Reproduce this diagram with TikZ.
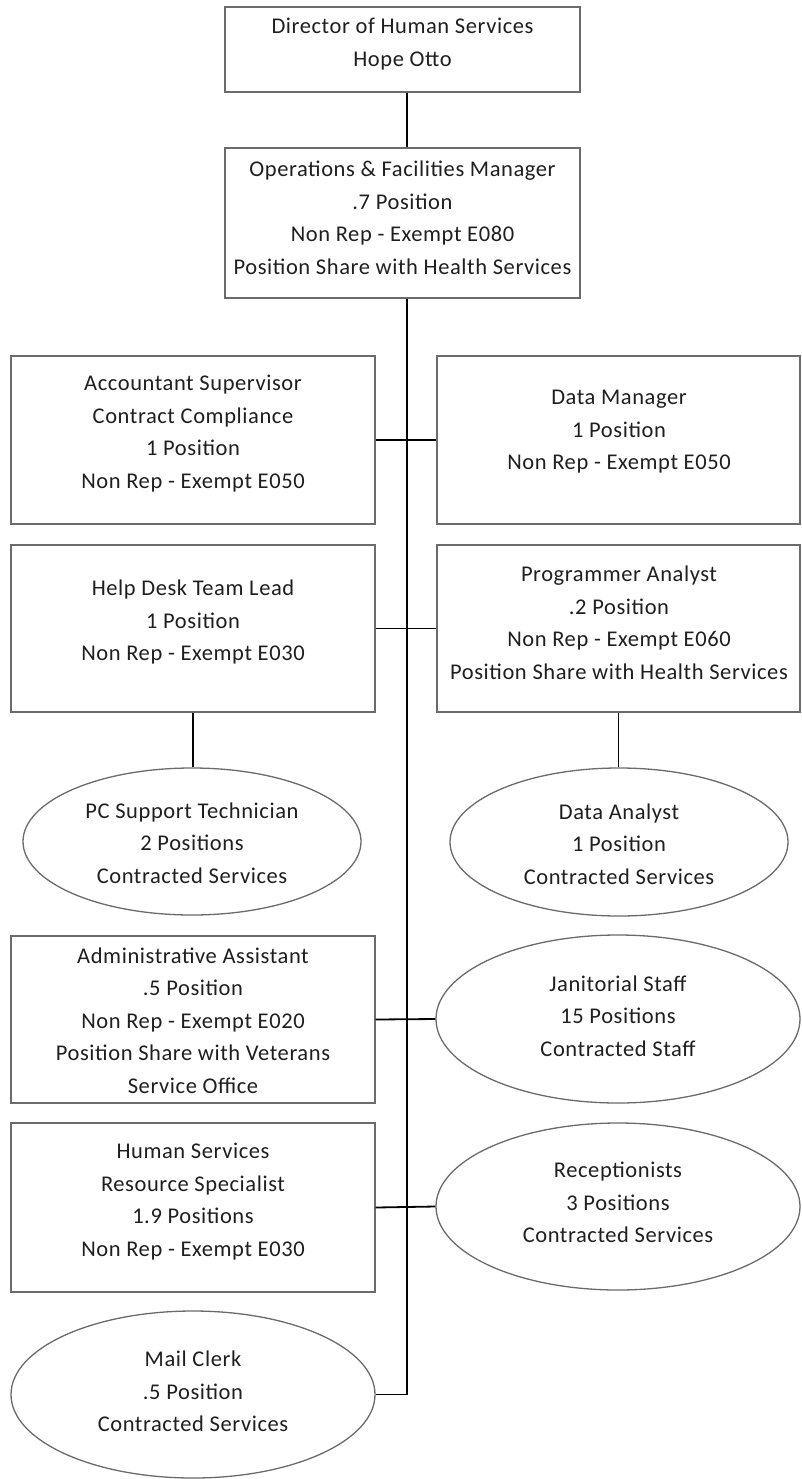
\documentclass[tikz,border=0pt]{standalone}
\usepackage{fontspec}
\setmainfont[LetterSpace=2.6]{Carlito}
\usetikzlibrary{shapes.geometric}

\definecolor{edgegrey}{gray}{0.42}
\definecolor{inkgrey}{gray}{0.12}

\tikzset{
  orgbox/.style={rectangle, draw=edgegrey, line width=1.3pt, fill=white, inner sep=0pt},
  orgoval/.style={ellipse, draw=edgegrey, line width=1.3pt, fill=white, inner sep=0pt},
  caption/.style={align=center, text=inkgrey, inner sep=0pt,
    font=\fontsize{22.5}{32.5}\selectfont},
  link/.style={draw=black, line width=1.8pt}
}

\begin{document}
\begin{tikzpicture}[x=1pt, y=-1pt]
  \fill[white] (0,0) rectangle (801,1479);
  \useasboundingbox (0,0) rectangle (801,1479);

  % top of the chart
  \node[orgbox, minimum width=355, minimum height=85] (dir) at (402.5,49.5) {};
  \node[caption] (dirT) at (402.5,44) {Director of Human Services\\Hope Otto};

  \node[orgbox, minimum width=355, minimum height=150] (ops) at (402.5,223) {};
  \node[caption] (opsT) at (402.5,218) {Operations \& Facilities Manager\\.7 Position\\Non Rep - Exempt E080\\Position Share with Health Services};

  % first row
  \node[orgbox, minimum width=364, minimum height=168] (acc) at (193,440) {};
  \node[caption] (accT) at (193,433.5) {Accountant Supervisor\\Contract Compliance\\1 Position\\Non Rep - Exempt E050};

  \node[orgbox, minimum width=363, minimum height=168] (dm) at (618.5,440) {};
  \node[caption] (dmT) at (619,432) {Data Manager\\1 Position\\Non Rep - Exempt E050};

  % second row
  \node[orgbox, minimum width=364, minimum height=167] (hd) at (193,628.5) {};
  \node[caption] (hdT) at (193,622) {Help Desk Team Lead\\1 Position\\Non Rep - Exempt E030};

  \node[orgbox, minimum width=363, minimum height=167] (prog) at (618.5,628.5) {};
  \node[caption] (progT) at (619,623) {Programmer Analyst\\.2 Position\\Non Rep - Exempt E060\\Position Share with Health Services};

  % contracted staff under the second row
  \node[orgoval, minimum width=338, minimum height=147] (pc) at (192,841.5) {};
  \node[caption] (pcT) at (192,843) {PC Support Technician\\2 Positions\\Contracted Services};

  \node[orgoval, minimum width=338, minimum height=148] (da) at (619,842) {};
  \node[caption] (daT) at (619,844) {Data Analyst\\1 Position\\Contracted Services};

  % third row
  \node[orgbox, minimum width=364, minimum height=167] (adm) at (193,1019.5) {};
  \node[caption] (admT) at (193,1020.5) {Administrative Assistant\\.5 Position\\Non Rep - Exempt E020\\Position Share with Veterans\\Service Office};

  \node[orgoval, minimum width=364, minimum height=168] (jan) at (618,1019) {};
  \node[caption] (janT) at (618,1016) {Janitorial Staff\\15 Positions\\Contracted Staff};

  % fourth row
  \node[orgbox, minimum width=364, minimum height=169] (hs) at (193,1207.5) {};
  \node[caption] (hsT) at (193,1201.5) {Human Services\\Resource Specialist\\1.9 Positions\\Non Rep - Exempt E030};

  \node[orgoval, minimum width=364, minimum height=167] (rec) at (618,1206.5) {};
  \node[caption] (recT) at (618,1202.5) {Receptionists\\3 Positions\\Contracted Services};

  % bottom
  \node[orgoval, minimum width=364, minimum height=167] (mail) at (193,1394.5) {};
  \node[caption] (mailT) at (193,1391.5) {Mail Clerk\\.5 Position\\Contracted Services};

  % reporting lines
  \draw[link] ([xshift=4.5pt]dir.south) -- ([xshift=4.5pt]ops.north);
  \draw[link] ([xshift=4.5pt]ops.south) |- (mail.east);
  \draw[link] (acc.east) -- (dm.west);
  \draw[link] (hd.east) -- (prog.west);
  \draw[link] (adm.east) -- (jan.west);
  \draw[link] (hs.east) -- (rec.west);
  \draw[link] (hd.south) -- (hd.south |- pc.north);
  \draw[link] (prog.south) -- (prog.south |- da.north);
\end{tikzpicture}
\end{document}
